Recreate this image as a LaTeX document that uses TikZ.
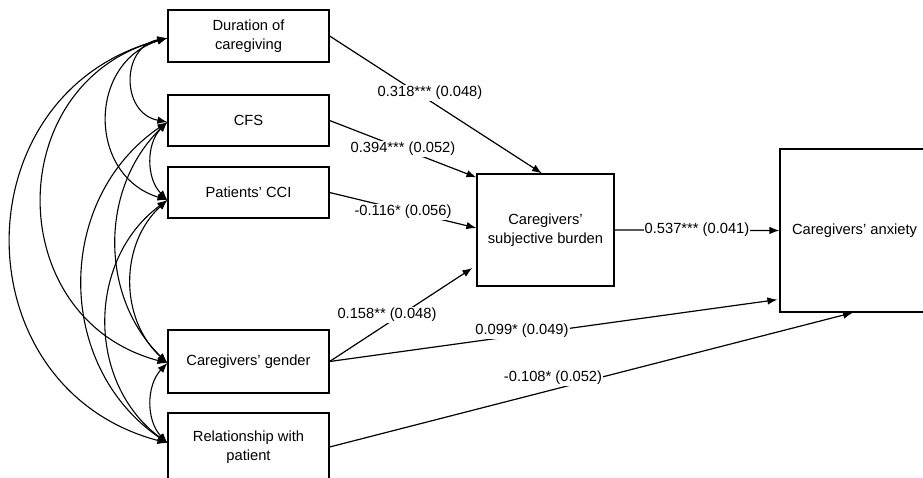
\documentclass[tikz,border=0pt]{standalone}
\usepackage{fontspec}
\setmainfont{Liberation Sans}
\usetikzlibrary{arrows.meta,calc}
\begin{document}
\begin{tikzpicture}[x=1pt,y=-1pt,
  font=\fontsize{14.7}{19}\selectfont,
  box/.style={draw,line width=1.2pt,rectangle,inner sep=0pt,align=center},
  path/.style={line width=1.2pt,-{Latex[length=10pt,width=7.5pt]}},
  cov/.style={line width=1.1pt,{Latex[length=10pt,width=7.5pt]}-{Latex[length=10pt,width=7.5pt]}},
  lab/.style={fill=white,inner sep=1pt}]
\useasboundingbox (0,0) rectangle (923,477);
% boxes
\node[box,minimum width=161pt,minimum height=52pt] (dur) at (248.5,36) {Duration of\\caregiving};
\node[box,minimum width=161pt,minimum height=51pt] (cfs) at (248.5,120.5) {CFS};
\node[box,minimum width=161pt,minimum height=51pt] (cci) at (248.5,192.5) {Patients’ CCI};
\node[box,minimum width=161pt,minimum height=63pt] (gen) at (248.5,361.5) {Caregivers’ gender};
\node[box,minimum width=161pt,minimum height=68pt] (rel) at (248.5,447) {Relationship with\\patient};
\node[box,minimum width=137pt,minimum height=112pt] (bur) at (545.5,230) {Caregivers’\\subjective burden};
\node[box,minimum width=149pt,minimum height=163pt] (anx) at (854.5,230.5) {Caregivers’ anxiety};
% covariance end points
\coordinate (pD) at ([yshift=-2pt]dur.west);
\coordinate (pC) at ([yshift=-1.5pt]cfs.west);
\coordinate (pI) at ([yshift=-7.5pt]cci.west);
\coordinate (pG) at ([yshift=-1.5pt]gen.west);
\coordinate (pR) at ([yshift=4pt]rel.west);
% covariances
\draw[cov] (pD) .. controls +(-46.7,8.6) and +(-46.7,-8.6) .. (pC);
\draw[cov] (pD) .. controls +(-80,24.5) and +(-80,-24.5) .. (pI);
\draw[cov] (pD) .. controls +(-166.7,44) and +(-166.7,-44) .. (pG);
\draw[cov] (pD) .. controls +(-208,55) and +(-208,-55) .. (pR);
\draw[cov] (pC) .. controls +(-21.3,21.6) and +(-21.3,-21.6) .. (pI);
\draw[cov] (pC) .. controls +(-68,66) and +(-68,-66) .. (pG);
\draw[cov] (pC) .. controls +(-113,77) and +(-113,-77) .. (pR);
\draw[cov] (pI) .. controls +(-48,44) and +(-48,-44) .. (pG);
\draw[cov] (pI) .. controls +(-81,60) and +(-81,-60) .. (pR);
\draw[cov] (pG) .. controls +(-21.3,22.4) and +(-21.3,-22.4) .. (pR);
% paths
\draw[path] (dur.east) -- ([xshift=-3.5pt]bur.north);
\draw[path] (cfs.east) -- ([yshift=-4pt]bur.north west);
\draw[path] (cci.east) -- ([yshift=2pt]bur.west);
\draw[path] (gen.east) -- ([xshift=-4pt,yshift=-38pt]bur.west);
\draw[path] (gen.east) -- ([xshift=-2pt,yshift=13pt]anx.south west);
\draw[path] (rel.east) -- ([xshift=-1.5pt]anx.south);
\draw[path] (bur.east) -- (anx.west);
% labels
\node[lab] (l1) at (430,93) {0.318*** (0.048)};
\node[lab] (l2) at (403,149) {0.394*** (0.052)};
\node[lab] (l3) at (403,212) {-0.116* (0.056)};
\node[lab] (l4) at (387,315) {0.158** (0.048)};
\node[lab] (l5) at (522,331) {0.099* (0.049)};
\node[lab] (l6) at (553,378) {-0.108* (0.052)};
\node[lab] (l7) at (697,230) {0.537*** (0.041)};
\end{tikzpicture}
\end{document}
